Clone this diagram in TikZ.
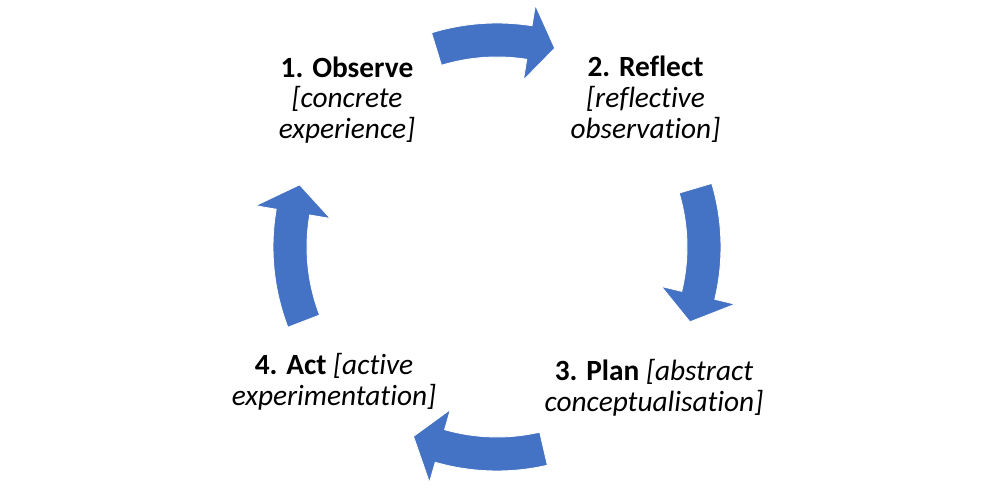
\documentclass[tikz,border=0pt]{standalone}
\usepackage{fontspec}
\setmainfont{Carlito}[Ligatures = NoCommon]
\usepackage{tikz}
\usetikzlibrary{arrows.meta}
\definecolor{cycleblue}{HTML}{4472C4}
\tikzset{
  cyclearrow/.style = {fill = cycleblue, draw = white, line width = 0.5pt, line join = miter},
  steptext/.style = {draw = none, fill = none, align = center, inner sep = 0pt,
                     font = \fontsize{16.7}{17.6}\selectfont}
}

\begin{document}
\begin{tikzpicture}[x = 0.02cm, y = 0.02cm]
\useasboundingbox (-497,-249) rectangle (503,247);

\draw[cyclearrow] (107:224) arc[start angle = 107, end angle = 81, radius = 224]
      -- (81:245) -- (73.8:207) -- (81:169) -- (81:190)
      arc[start angle = 81, end angle = 107, radius = 190] -- cycle;
\draw[cyclearrow] (16.5:224) arc[start angle = 16.5, end angle = -13.5, radius = 224]
      -- (-13.5:245) -- (-21.2:207) -- (-13.5:169) -- (-13.5:190)
      arc[start angle = -13.5, end angle = 16.5, radius = 190] -- cycle;
\draw[cyclearrow] (-77:224) arc[start angle = -77, end angle = -106, radius = 224]
      -- (-106:245) -- (-113.8:207) -- (-106:169) -- (-106:190)
      arc[start angle = -106, end angle = -77, radius = 190] -- cycle;
\draw[cyclearrow] (201:224) arc[start angle = 201, end angle = 170.3, radius = 224]
      -- (170.3:245) -- (162.5:207) -- (170.3:169) -- (170.3:190)
      arc[start angle = 170.3, end angle = 201, radius = 190] -- cycle;

      \node[steptext] (observe) at (-150,147) {\textbf{1. Observe}\\\textit{[concrete}\\\textit{experience]}};
      \node[steptext] (reflect) at (148.5,148) {\textbf{2. Reflect}\\\textit{[reflective}\\\textit{observation]}};
      \node[steptext] (plan) at (157,-141) {\textbf{3. Plan} \textit{[abstract}\\\textit{conceptualisation]}};
      \node[steptext] (act) at (-163,-135) {\textbf{4. Act} \textit{[active}\\\textit{experimentation]}};
\end{tikzpicture}
\end{document}
